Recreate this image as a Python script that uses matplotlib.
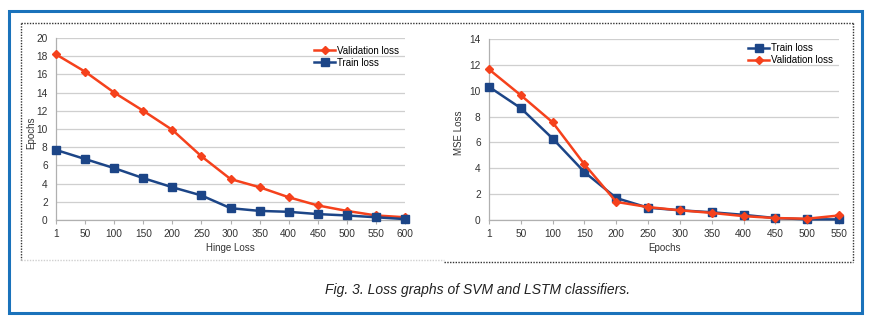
import numpy as np
import matplotlib
matplotlib.use("Agg")
import matplotlib.pyplot as plt
from matplotlib.lines import Line2D
from matplotlib.patches import Rectangle

matplotlib.rcParams["font.family"] = ["Liberation Sans", "DejaVu Sans"]

# SVM panel (left)
svm_labels = ["1", "50", "100", "150", "200", "250", "300", "350", "400", "450", "500", "550", "600"]
svm_val = [18.2, 16.3, 14.0, 12.0, 9.9, 7.0, 4.5, 3.6, 2.5, 1.6, 1.0, 0.5, 0.3]
svm_train = [7.7, 6.7, 5.7, 4.6, 3.6, 2.7, 1.3, 1.0, 0.9, 0.65, 0.5, 0.3, 0.1]

# LSTM panel (right)
lstm_labels = ["1", "50", "100", "150", "200", "250", "300", "350", "400", "450", "500", "550"]
lstm_train = [10.3, 8.65, 6.3, 3.7, 1.7, 0.95, 0.75, 0.6, 0.4, 0.15, 0.05, 0.05]
lstm_val = [11.65, 9.65, 7.55, 4.3, 1.4, 1.0, 0.75, 0.55, 0.3, 0.15, 0.1, 0.35]

RED = "#f5411c"
NAVY = "#1c4587"
BORDER = "#1a72bb"
GRID = "#cfcfcf"
TXT = "#333333"


def style_axes(ax, labels, ymax, ystep, xlabel, ylabel, ylab_x):
    ax.set_xlim(0, len(labels) - 1)
    ax.set_ylim(0, ymax)
    ax.set_xticks(range(len(labels)))
    ax.set_xticklabels(labels)
    ax.set_yticks(np.arange(0, ymax + 0.1, ystep))
    ax.yaxis.grid(True, color=GRID, linewidth=0.9)
    ax.set_axisbelow(True)
    for s in ["top", "right"]:
        ax.spines[s].set_visible(False)
    for s in ["left", "bottom"]:
        ax.spines[s].set_color("#b0b0b0")
        ax.spines[s].set_linewidth(0.9)
    ax.tick_params(axis="both", labelsize=7.3, colors=TXT, length=3, width=0.8)
    ax.tick_params(axis="x", color="#b0b0b0")
    ax.tick_params(axis="y", length=0, pad=6)
    ax.set_xlabel(xlabel, fontsize=7, color=TXT, labelpad=3)
    ax.set_ylabel(ylabel, fontsize=7, color=TXT)
    ax.yaxis.set_label_coords(ylab_x, 0.48)


fig = plt.figure(figsize=(8.75, 3.27), dpi=100)

ax1 = fig.add_axes([0.064, 0.3272, 0.3989, 0.5566])
x1 = np.arange(len(svm_labels))
ax1.plot(x1, svm_val, color=RED, lw=1.8, marker="D", ms=4.5, label="Validation loss", clip_on=False, zorder=3)
ax1.plot(x1, svm_train, color=NAVY, lw=1.8, marker="s", ms=6, label="Train loss", clip_on=False, zorder=3)
style_axes(ax1, svm_labels, 20, 2, "Hinge Loss", "Epochs", -0.058)
ax1.legend(loc="upper right", bbox_to_anchor=(1.0, 0.99), frameon=False, fontsize=7,
           handlelength=2.2, handletextpad=0.2, labelspacing=0.2, borderaxespad=0.2)

ax2 = fig.add_axes([0.5589, 0.3272, 0.40, 0.5535])
x2 = np.arange(len(lstm_labels))
ax2.plot(x2, lstm_train, color=NAVY, lw=1.8, marker="s", ms=6, label="Train loss", clip_on=False, zorder=3)
ax2.plot(x2, lstm_val, color=RED, lw=1.8, marker="D", ms=4.5, label="Validation loss", clip_on=False, zorder=3)
style_axes(ax2, lstm_labels, 14, 2, "Epochs", "MSE Loss", -0.071)
ax2.legend(loc="upper right", bbox_to_anchor=(1.0, 1.01), frameon=False, fontsize=7,
           handlelength=2.2, handletextpad=0.2, labelspacing=0.2, borderaxespad=0.2)

# frame decorations
W, H = 875.0, 327.0


def fx(px):
    return px / W


def fy(py):
    return 1 - py / H


fig.patches.append(Rectangle((fx(9), fy(313)), fx(853), (313 - 11) / H, fill=False,
                             edgecolor=BORDER, linewidth=2.2, transform=fig.transFigure))
dots = dict(transform=fig.transFigure, linestyle=(0, (1, 1)), linewidth=1.0)
fig.lines.append(Line2D([fx(21), fx(853)], [fy(23), fy(23)], color="#333333", **dots))
fig.lines.append(Line2D([fx(21), fx(21)], [fy(23), fy(260)], color="#333333", **dots))
fig.lines.append(Line2D([fx(21), fx(444)], [fy(260), fy(260)], color="#d0d0d0", **dots))
fig.lines.append(Line2D([fx(853), fx(853)], [fy(23), fy(262)], color="#333333", **dots))
fig.lines.append(Line2D([fx(444), fx(853)], [fy(262), fy(262)], color="#333333", **dots))

fig.text(fx(478), fy(290), "Fig. 3. Loss graphs of SVM and LSTM classifiers.", ha="center", va="center",
         fontsize=10, style="italic", color="#222222")

fig.savefig("out.png", dpi=100)
